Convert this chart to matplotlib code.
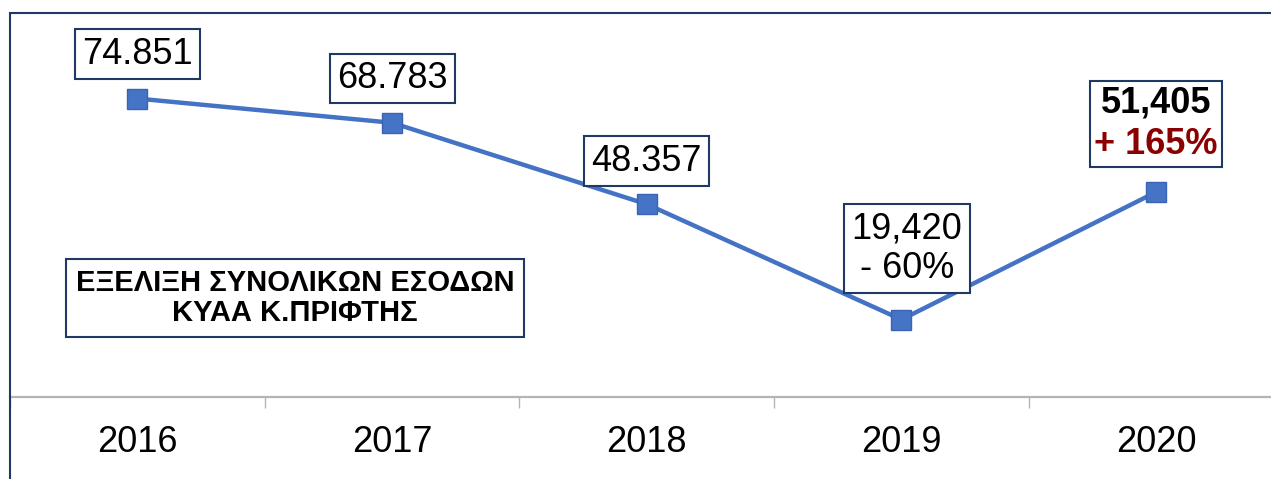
import numpy as np
import matplotlib
matplotlib.use('Agg')
import matplotlib.pyplot as plt
from matplotlib.patches import Rectangle
from matplotlib.offsetbox import TextArea, VPacker, AnnotationBbox

plt.rcParams['font.family'] = ['Liberation Sans', 'DejaVu Sans']

# data
years = ['2016', '2017', '2018', '2019', '2020']
revenue = [74851, 68783, 48357, 19420, 51405]
point_labels = ['74.851', '68.783', '48.357', '19,420\n- 60%', '51,405']
change_2020 = '+ 165%'
title = 'ΕΞΕΛΙΞΗ ΣΥΝΟΛΙΚΩΝ ΕΣΟΔΩΝ\nΚΥΑΑ Κ.ΠΡΙΦΤΗΣ'

W, H = 1271, 479
fig = plt.figure(figsize=(W / 100, H / 100), dpi=100)

# axes placed in pixel terms: category band 254.7 px, first band starts at x=10
band = 254.7
left, bottom, top = 10, 397, 13
ax = fig.add_axes([left / W, 1 - bottom / H, 5 * band / W, (bottom - top) / H])

navy = '#1F3864'
blue = '#4472C4'
grey = '#B4B4B4'

x = np.arange(len(years))
ax.plot(x, revenue, color=blue, lw=3.2, marker='s', ms=14,
        mfc='#4574C6', mec='#3A63B3', mew=1, zorder=3, solid_joinstyle='miter')

ax.set_xlim(-0.5, 4.5)
ax.set_ylim(0, (bottom - top) / 0.003987)

for s in ['left', 'right', 'top']:
    ax.spines[s].set_visible(False)
ax.spines['bottom'].set_color(grey)
ax.spines['bottom'].set_linewidth(1.6)
ax.set_yticks([])
ax.set_xticks(x)
ax.set_xticklabels(years, fontsize=26)
ax.tick_params(axis='x', which='major', length=0, pad=20)
ax.set_xticks(np.arange(-0.5, 5, 1), minor=True)
ax.tick_params(axis='x', which='minor', length=8, width=1, color=grey)
ax.patch.set_alpha(0)

box = dict(boxstyle='square,pad=0.2', fc='white', ec=navy, lw=1.5)

# offsets (points) from each marker to its label centre
offsets = [(0, 32), (0, 32), (0, 31), (4, 51)]
for i in range(4):
    ax.annotate(point_labels[i], (x[i], revenue[i]), xytext=offsets[i],
                textcoords='offset points', ha='center', va='center',
                fontsize=26, bbox=box, zorder=4, linespacing=1.15)

# 2020 label: value in black and change in dark red, both bold, in one box
val = TextArea(point_labels[4], textprops=dict(fontsize=26, fontweight='bold', color='black'))
chg = TextArea(change_2020, textprops=dict(fontsize=26, fontweight='bold', color='#8B0000'))
pack = VPacker(children=[val, chg], align='center', pad=0, sep=5)
ab = AnnotationBbox(pack, (x[4], revenue[4]), xybox=(0, 49), boxcoords='offset points',
                    frameon=True, pad=1.5, box_alignment=(0.5, 0.5),
                    bboxprops=dict(boxstyle='square,pad=0.3', fc='white', ec=navy, lw=1.5))
ab.set_zorder(4)
ax.add_artist(ab)

# title box
fig.text(295 / W, 1 - 298 / H, title, ha='center', va='center', fontsize=21,
         fontweight='bold', linespacing=1.1,
         bbox=dict(boxstyle='square,pad=0.33', fc='white', ec=navy, lw=1.5))

# outer chart frame (cropped on right and bottom)
fig.patches.append(Rectangle((left / W, -0.1), 1.2, 1 - top / H + 0.1,
                             transform=fig.transFigure, fill=False,
                             ec=navy, lw=1.5, zorder=10))

fig.savefig('out.png', dpi=100)
